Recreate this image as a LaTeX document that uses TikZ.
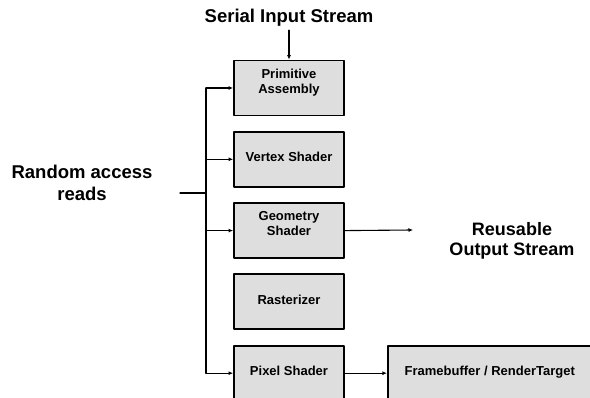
\documentclass[tikz,border=0pt]{standalone}
\usepackage{fontspec}
\setmainfont{Liberation Sans}
\usetikzlibrary{arrows.meta}
\usetikzlibrary{positioning}

\begin{document}
\begin{tikzpicture}[x=1pt,y=1pt,
	stage/.style={draw,line width=1.8pt,fill=black!13,minimum width=110pt,minimum height=55pt,
		align=center,text depth=5pt,font=\bfseries\fontsize{13}{15}\selectfont},
	twoline/.style={text depth=14pt},
	big/.style={align=center,font=\bfseries\fontsize{18.5}{22}\selectfont},
	arr/.style={-{Latex[length=4.5pt,width=4pt]},line width=1.1pt},
	line cap=round,line join=round]
	
	\useasboundingbox (0,0) rectangle (590,398);
	
	% pipeline stages
	\node [stage,twoline] (prim) at (289,310) {Primitive\\Assembly};
	\node [stage,below=14.5pt of prim] (vertex) {Vertex Shader};
	\node [stage,twoline,below=14.5pt of vertex] (geom) {Geometry\\Shader};
	\node [stage,below=14.5pt of geom] (raster) {Rasterizer};
	\node [stage,below=14.5pt of raster] (pixel) {Pixel Shader};
	\node [stage,minimum width=204pt,right=42pt of pixel] (fb) {Framebuffer / RenderTarget};
	
	% labels
	\node [big] (serial) at (289,380) {Serial Input Stream};
	\node [big] (reads) at (82,215) {Random access\\reads};
	\node [big,font=\bfseries\fontsize{18}{20}\selectfont] (reuse) at (512,157) {Reusable\\Output Stream};
	
	\coordinate (bus) at (206,205);
	\coordinate (rd) at (180,205);
	\coordinate (outend) at (413,168);
	
	% input stream
	\draw [arr] (serial.south) -- (prim.north);
	
	% random access reads
	\draw [line width=1.3pt] (rd) -- (bus);
	\draw [line width=1.3pt] (prim.west -| bus) -- (pixel.west -| bus);
	\foreach \s in {prim,vertex,geom,pixel}
		\draw [arr] (\s.west -| bus) -- (\s.west);
	
	% outputs
	\draw [arr] (geom.east) -- (outend);
	\draw [arr] (pixel) -- (fb);
\end{tikzpicture}
\end{document}
